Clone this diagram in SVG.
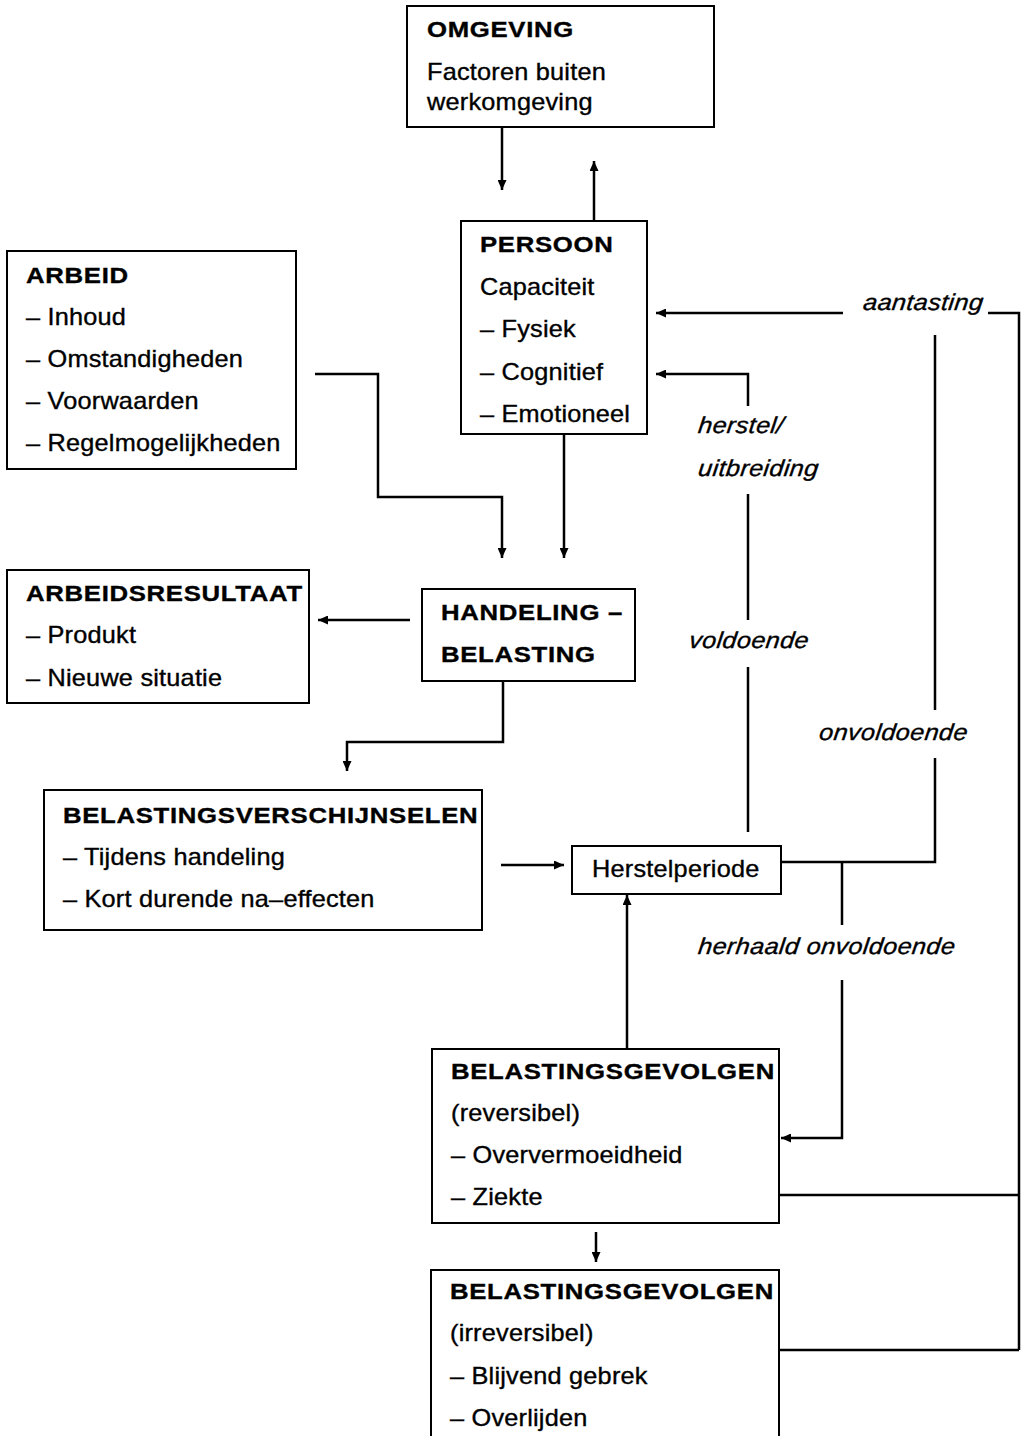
<svg xmlns="http://www.w3.org/2000/svg" width="1022" height="1436" viewBox="0 0 1022 1436">
<style>
.box{fill:#fff;stroke:#000;stroke-width:2}
.t{font-family:"Liberation Sans",Arial,sans-serif;font-size:23px;letter-spacing:0.2px;fill:#000;stroke:#000;stroke-width:0.35px;transform-box:fill-box;transform-origin:0 100%;transform:scaleX(1.1)}
.b{font-weight:bold;letter-spacing:0.6px;transform:scaleX(1.12)}
.i{font-style:italic;letter-spacing:0.3px;transform:scaleX(1.1) skewX(-6deg)}
.c{fill:none;stroke:#000;stroke-width:2.5}
</style>
<defs>
<marker id="ah" markerUnits="userSpaceOnUse" markerWidth="11" markerHeight="9" refX="10" refY="4.5" orient="auto">
<path d="M0,0 L10,4.5 L0,9 z" fill="#000"/>
</marker>
</defs>
<rect width="1022" height="1436" fill="#fff"/>
<g id="connectors">
<path class="c" d="M502,127 V190" marker-end="url(#ah)"/>
<path class="c" d="M594,221 V161" marker-end="url(#ah)"/>
<path class="c" d="M315,374 H378 V497 H502 V558" marker-end="url(#ah)"/>
<path class="c" d="M564,434 V558" marker-end="url(#ah)"/>
<path class="c" d="M410,620 H318" marker-end="url(#ah)"/>
<path class="c" d="M503,681 V742 H347 V771" marker-end="url(#ah)"/>
<path class="c" d="M501,865 H564" marker-end="url(#ah)"/>
<path class="c" d="M748,832 V667"/>
<path class="c" d="M748,620 V494"/>
<path class="c" d="M748,406 V374 H656" marker-end="url(#ah)"/>
<path class="c" d="M843,313 H656" marker-end="url(#ah)"/>
<path class="c" d="M988,313 H1019 V1350"/>
<path class="c" d="M935,335 V710"/>
<path class="c" d="M781,862 H935 V758"/>
<path class="c" d="M842,862 V925"/>
<path class="c" d="M842,980 V1138 H781" marker-end="url(#ah)"/>
<path class="c" d="M627,1049 V895" marker-end="url(#ah)"/>
<path class="c" d="M596,1232 V1262" marker-end="url(#ah)"/>
<path class="c" d="M779,1195 H1019"/>
<path class="c" d="M779,1350 H1019"/>
<text class="t i" x="862" y="310">aantasting</text>
<text class="t i" x="697" y="433">herstel/</text>
<text class="t i" x="697" y="476">uitbreiding</text>
<text class="t i" x="688" y="648">voldoende</text>
<text class="t i" x="818" y="740">onvoldoende</text>
<text class="t i" x="697" y="954">herhaald onvoldoende</text>
</g>
<g id="omgeving">
<rect class="box" x="407" y="6" width="307" height="121"/>
<text class="t b" x="427" y="37">OMGEVING</text>
<text class="t" x="427" y="80">Factoren buiten</text>
<text class="t" x="427" y="110">werkomgeving</text>
</g>
<g id="persoon">
<rect class="box" x="461" y="221" width="186" height="213"/>
<text class="t b" x="480" y="252">PERSOON</text>
<text class="t" x="480" y="295">Capaciteit</text>
<text class="t" x="480" y="337">– Fysiek</text>
<text class="t" x="480" y="380">– Cognitief</text>
<text class="t" x="480" y="422">– Emotioneel</text>
</g>
<g id="arbeid">
<rect class="box" x="7" y="251" width="289" height="218"/>
<text class="t b" x="26" y="283">ARBEID</text>
<text class="t" x="26" y="325">– Inhoud</text>
<text class="t" x="26" y="367">– Omstandigheden</text>
<text class="t" x="26" y="409">– Voorwaarden</text>
<text class="t" x="26" y="451">– Regelmogelijkheden</text>
</g>
<g id="arbeidsresultaat">
<rect class="box" x="7" y="570" width="302" height="133"/>
<text class="t b" x="26" y="601">ARBEIDSRESULTAAT</text>
<text class="t" x="26" y="643">– Produkt</text>
<text class="t" x="26" y="686">– Nieuwe situatie</text>
</g>
<g id="handeling">
<rect class="box" x="422" y="589" width="213" height="92"/>
<text class="t b" x="441" y="620">HANDELING –</text>
<text class="t b" x="441" y="662">BELASTING</text>
</g>
<g id="belastingsverschijnselen">
<rect class="box" x="44" y="790" width="438" height="140"/>
<text class="t b" x="63" y="823">BELASTINGSVERSCHIJNSELEN</text>
<text class="t" x="63" y="865">– Tijdens handeling</text>
<text class="t" x="63" y="907">– Kort durende na–effecten</text>
</g>
<g id="herstelperiode">
<rect class="box" x="572" y="846" width="209" height="48"/>
<text class="t" x="592" y="877">Herstelperiode</text>
</g>
<g id="gevolgen-reversibel">
<rect class="box" x="432" y="1049" width="347" height="174"/>
<text class="t b" x="451" y="1079">BELASTINGSGEVOLGEN</text>
<text class="t" x="451" y="1121">(reversibel)</text>
<text class="t" x="451" y="1163">– Oververmoeidheid</text>
<text class="t" x="451" y="1205">– Ziekte</text>
</g>
<g id="gevolgen-irreversibel">
<rect class="box" x="431" y="1270" width="348" height="190"/>
<text class="t b" x="450" y="1299">BELASTINGSGEVOLGEN</text>
<text class="t" x="450" y="1341">(irreversibel)</text>
<text class="t" x="450" y="1384">– Blijvend gebrek</text>
<text class="t" x="450" y="1426">– Overlijden</text>
</g>
</svg>
